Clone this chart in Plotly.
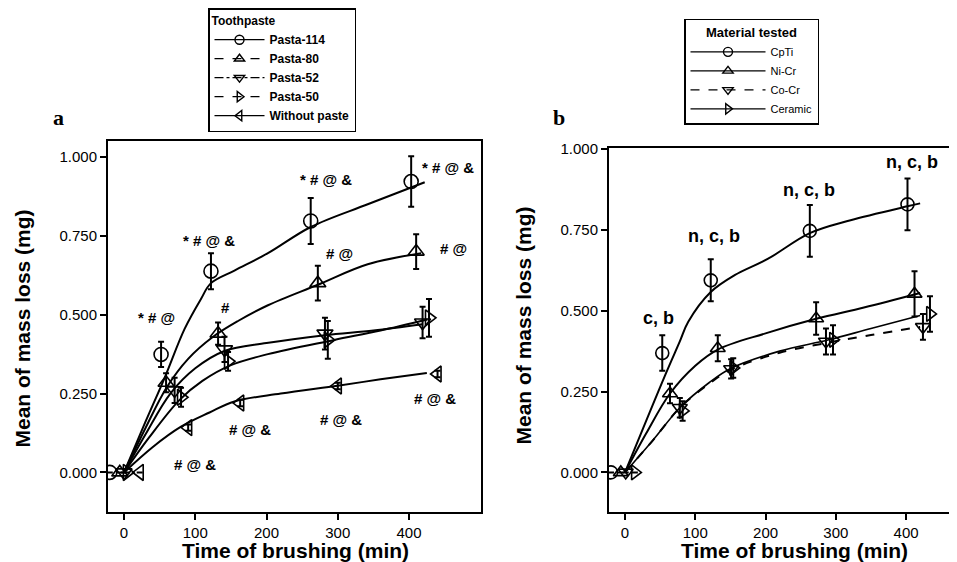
import plotly.graph_objects as go

W, H = 957, 562

# ---------------- Panel a: toothpaste ----------------
paste_names = ["Pasta-114", "Pasta-80", "Pasta-52", "Pasta-50", "Without paste"]
paste_symbols = ["circle-open", "triangle-up-open", "triangle-down-open", "triangle-right-open", "triangle-left-open"]
paste_legend_dash = ["solid", "dash", "dashdot", "dash", "solid"]

# measured means (markers, slightly offset in x as in the original)
p114_x = [-20, 52, 122, 262, 403]
p114_y = [0.0, 0.374, 0.638, 0.797, 0.922]
p114_e = [0.0, 0.04, 0.057, 0.073, 0.08]
p80_x = [-6, 59, 132, 272, 410]
p80_y = [0.0, 0.284, 0.44, 0.60, 0.70]
p80_e = [0.0, 0.03, 0.035, 0.055, 0.055]
p52_x = [0, 71, 141, 282, 419]
p52_y = [0.0, 0.26, 0.39, 0.44, 0.475]
p52_e = [0.0, 0.04, 0.04, 0.05, 0.05]
p50_x = [4, 80, 146, 286, 428]
p50_y = [0.0, 0.238, 0.352, 0.42, 0.49]
p50_e = [0.0, 0.03, 0.03, 0.06, 0.06]
wo_x = [22, 90, 163, 300, 440]
wo_y = [0.0, 0.142, 0.22, 0.274, 0.312]
wo_e = [0.0, 0.01, 0.01, 0.01, 0.01]

# fitted curves
c114_x = [0, 30, 57, 85, 108, 122, 155, 202, 262, 342, 422]
c114_y = [0, 0.16, 0.30, 0.455, 0.55, 0.60, 0.64, 0.695, 0.778, 0.85, 0.92]
c80_x = [0, 30, 60, 90, 125, 160, 202, 272, 342, 417]
c80_y = [0, 0.14, 0.27, 0.36, 0.43, 0.48, 0.53, 0.595, 0.66, 0.695]
c52_x = [0, 30, 65, 100, 141, 200, 282, 350, 419]
c52_y = [0, 0.12, 0.25, 0.33, 0.385, 0.41, 0.435, 0.45, 0.47]
c50_x = [0, 35, 78, 110, 150, 202, 295, 360, 426]
c50_y = [0, 0.11, 0.23, 0.29, 0.34, 0.375, 0.42, 0.45, 0.485]
cwo_x = [0, 40, 80, 120, 155, 220, 300, 360, 425]
cwo_y = [0, 0.08, 0.145, 0.19, 0.225, 0.25, 0.275, 0.295, 0.315]

ann_a_text = ["* # @", "* # @ &", "* # @ &", "* # @ &", "#", "# @", "# @",
              "# @ &", "# @ &", "# @ &", "# @ &"]
ann_a_x = [46, 119, 283, 454, 143, 303, 463, 100, 177, 304, 436]
ann_a_y = [0.49, 0.735, 0.928, 0.966, 0.523, 0.695, 0.71, 0.025, 0.137, 0.168, 0.234]

# ---------------- Panel b: materials ----------------
mat_names = ["CpTi", "Ni-Cr", "Co-Cr", "Ceramic"]
mat_symbols = ["circle-open", "triangle-up-open", "triangle-down-open", "triangle-right-open"]
mat_dash = ["solid", "solid", "dash", "solid"]

cpti_x = [-20, 53, 122, 263, 402]
cpti_y = [0.0, 0.369, 0.594, 0.747, 0.829]
cpti_e = [0.0, 0.055, 0.065, 0.08, 0.08]
nicr_x = [-6, 64, 132, 272, 412]
nicr_y = [0.0, 0.244, 0.384, 0.476, 0.552]
nicr_e = [0.0, 0.03, 0.04, 0.05, 0.07]
cocr_x = [1, 78, 151, 286, 424]
cocr_y = [0.0, 0.20, 0.32, 0.405, 0.45]
cocr_e = [0.0, 0.03, 0.03, 0.04, 0.04]
cer_x = [14, 82, 154, 296, 434]
cer_y = [0.0, 0.19, 0.323, 0.41, 0.49]
cer_e = [0.0, 0.03, 0.03, 0.045, 0.055]

ccp_x = [0, 57, 78, 90, 122, 156, 203, 263, 321, 402, 420]
ccp_y = [0, 0.30, 0.405, 0.466, 0.558, 0.61, 0.66, 0.74, 0.78, 0.823, 0.832]
cni_x = [0, 30, 64, 100, 132, 200, 272, 340, 420]
cni_y = [0, 0.12, 0.244, 0.33, 0.38, 0.43, 0.475, 0.51, 0.555]
cco_x = [0, 40, 78, 120, 151, 220, 286, 350, 420]
cco_y = [0, 0.10, 0.20, 0.275, 0.318, 0.37, 0.40, 0.425, 0.45]
cce_x = [0, 40, 78, 120, 151, 220, 290, 350, 420]
cce_y = [0, 0.10, 0.20, 0.278, 0.322, 0.375, 0.41, 0.445, 0.485]

ann_b_text = ["c, b", "n, c, b", "n, c, b", "n, c, b"]
ann_b_x = [47, 127, 262, 408]
ann_b_y = [0.476, 0.73, 0.872, 0.96]

x_ticks = [0, 100, 200, 300, 400]
y_ticks = [0.0, 0.25, 0.5, 0.75, 1.0]
y_ticklabels = ["0.000", "0.250", "0.500", "0.750", "1.000"]
x_title = "Time of brushing (min)"
y_title = "Mean of mass loss (mg)"

FONT = "Liberation Sans, Arial, sans-serif"
fig = go.Figure()

paste_markers = [(p114_x, p114_y, p114_e), (p80_x, p80_y, p80_e), (p52_x, p52_y, p52_e),
                 (p50_x, p50_y, p50_e), (wo_x, wo_y, wo_e)]
paste_curves = [(c114_x, c114_y), (c80_x, c80_y), (c52_x, c52_y), (c50_x, c50_y), (cwo_x, cwo_y)]

for name, sym, dash, (mx, my, me), (cx, cy) in zip(paste_names, paste_symbols, paste_legend_dash,
                                                   paste_markers, paste_curves):
    fig.add_trace(go.Scatter(x=cx, y=cy, mode="lines", line=dict(color="black", width=2, shape="spline"),
                             showlegend=False, hoverinfo="skip", xaxis="x", yaxis="y"))
    fig.add_trace(go.Scatter(x=mx, y=my, mode="markers",
                             marker=dict(symbol=sym, size=14, color="black", line=dict(width=1.6, color="black")),
                             error_y=dict(type="data", array=me, visible=True, color="black", thickness=2, width=3),
                             showlegend=False, xaxis="x", yaxis="y"))
    fig.add_trace(go.Scatter(x=[None], y=[None], mode="lines+markers", name=name,
                             line=dict(color="black", width=1.2, dash=dash),
                             marker=dict(symbol=sym, size=9, color="black", line=dict(width=1.4, color="black")),
                             legend="legend", xaxis="x", yaxis="y"))

mat_markers = [(cpti_x, cpti_y, cpti_e), (nicr_x, nicr_y, nicr_e), (cocr_x, cocr_y, cocr_e), (cer_x, cer_y, cer_e)]
mat_curves = [(ccp_x, ccp_y), (cni_x, cni_y), (cco_x, cco_y), (cce_x, cce_y)]
mat_width = [2, 2, 2, 1.6]

for name, sym, dash, lw, (mx, my, me), (cx, cy) in zip(mat_names, mat_symbols, mat_dash, mat_width,
                                                       mat_markers, mat_curves):
    fig.add_trace(go.Scatter(x=cx, y=cy, mode="lines", line=dict(color="black", width=lw, dash=dash, shape="spline"),
                             showlegend=False, hoverinfo="skip", xaxis="x2", yaxis="y2"))
    fig.add_trace(go.Scatter(x=mx, y=my, mode="markers",
                             marker=dict(symbol=sym, size=13, color="black", line=dict(width=1.6, color="black")),
                             error_y=dict(type="data", array=me, visible=True, color="black", thickness=2, width=3),
                             showlegend=False, xaxis="x2", yaxis="y2"))
    fig.add_trace(go.Scatter(x=[None], y=[None], mode="lines+markers", name=name,
                             line=dict(color="black", width=1.4, dash=dash),
                             marker=dict(symbol=sym, size=9, color="black", line=dict(width=1.4, color="black")),
                             legend="legend2", xaxis="x2", yaxis="y2"))

annotations = []
for t, x, y in zip(ann_a_text, ann_a_x, ann_a_y):
    annotations.append(dict(text=t, x=x, y=y, xref="x", yref="y", showarrow=False,
                            font=dict(family=FONT, size=15, color="black", weight="bold")))
for t, x, y in zip(ann_b_text, ann_b_x, ann_b_y):
    annotations.append(dict(text=t, x=x, y=y, xref="x2", yref="y2", showarrow=False,
                            font=dict(family=FONT, size=18, color="black", weight="bold")))

title_font = dict(family=FONT, size=21, color="black", weight="bold")
label_font = dict(family="Liberation Serif, serif", size=22, color="black", weight="bold")
# panel labels
annotations.append(dict(text="a", x=50 / W, y=1 - 103 / H, xref="paper", yref="paper", showarrow=False,
                        xanchor="center", yanchor="middle", font=label_font))
annotations.append(dict(text="b", x=551 / W, y=1 - 103 / H, xref="paper", yref="paper", showarrow=False,
                        xanchor="center", yanchor="middle", font=label_font))
# axis titles
for cx_px in (287, 786):
    annotations.append(dict(text=x_title, x=cx_px / W, y=1 - 542 / H, xref="paper", yref="paper",
                            xanchor="center", yanchor="middle", showarrow=False, font=title_font))
for cx_px, cy_px in ((14, 317), (516, 314)):
    annotations.append(dict(text=y_title, x=cx_px / W, y=1 - cy_px / H, xref="paper", yref="paper",
                            xanchor="center", yanchor="middle", showarrow=False, textangle=-90,
                            font=title_font))

axis_common = dict(showgrid=False, zeroline=False, showline=True, linecolor="black", linewidth=2,
                   ticks="outside", ticklen=6, tickwidth=2, tickcolor="black",
                   tickfont=dict(family=FONT, size=15, color="black"))

fig.update_layout(
    width=W, height=H, margin=dict(l=0, r=0, t=0, b=0),
    paper_bgcolor="white", plot_bgcolor="white",
    xaxis=dict(domain=[100 / W, 473 / W], range=[-22.5, 501], tickvals=x_ticks, mirror=True,
               anchor="y", **axis_common),
    yaxis=dict(domain=[59 / H, 435 / H], range=[-0.125, 1.05], tickvals=y_ticks, ticktext=y_ticklabels,
               mirror=True, anchor="x", **axis_common),
    xaxis2=dict(domain=[601 / W, 955 / W], range=[-22.8, 481], tickvals=x_ticks, mirror=True,
                anchor="y2", **axis_common),
    yaxis2=dict(domain=[59 / H, 428 / H], range=[-0.122, 1.003], tickvals=y_ticks, ticktext=y_ticklabels,
                mirror=True, anchor="x2", **axis_common),
    legend=dict(x=200 / W, y=1 + 8 / H, xanchor="left", yanchor="top", bgcolor="white",
                bordercolor="black", borderwidth=1.5, itemwidth=50, entrywidth=100,
                title=dict(text="Toothpaste", font=dict(family=FONT, size=12, color="black", weight="bold")),
                font=dict(family=FONT, size=12, color="black", weight="bold")),
    legend2=dict(x=676 / W, y=1 - 3 / H, xanchor="left", yanchor="top", bgcolor="white",
                 bordercolor="black", borderwidth=1.5, itemwidth=75, entrywidth=150,
                 title=dict(text="Material tested", side="top center",
                            font=dict(family=FONT, size=13, color="black", weight="bold")),
                 font=dict(family=FONT, size=11, color="black")),
    annotations=annotations,
)

fig.write_html("out.html")
